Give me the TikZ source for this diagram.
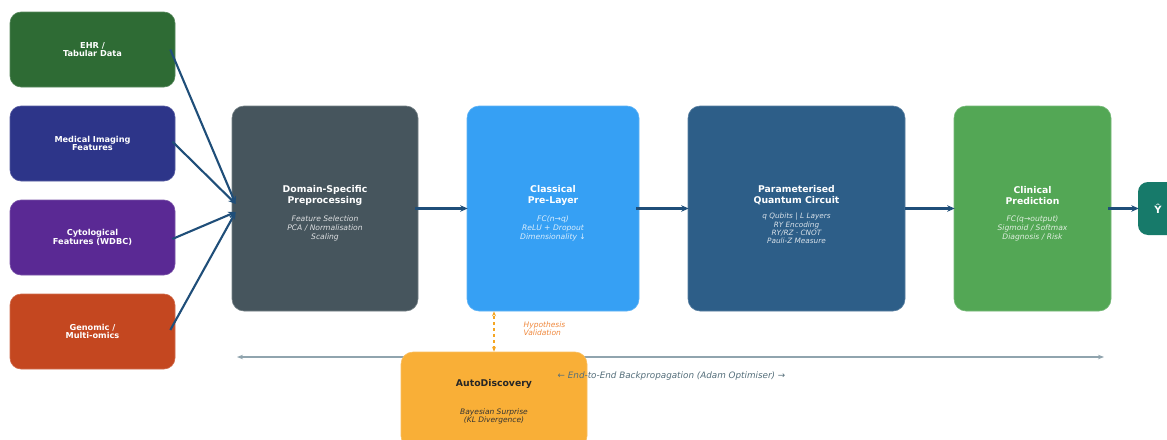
\documentclass[tikz,border=0pt]{standalone}
\usepackage{fontspec}
\setmainfont{DejaVu Sans}
\usetikzlibrary{arrows.meta}
\definecolor{cEhr}{HTML}{2E6B34}
\definecolor{cImg}{HTML}{2D3589}
\definecolor{cCyto}{HTML}{5A2994}
\definecolor{cGeno}{HTML}{C44720}
\definecolor{cDom}{HTML}{46555D}
\definecolor{cCls}{HTML}{36A0F4}
\definecolor{cPqc}{HTML}{2D5E88}
\definecolor{cClin}{HTML}{53A755}
\definecolor{cYhat}{HTML}{177A6A}
\definecolor{cAuto}{HTML}{F9AF37}
\definecolor{cArrow}{HTML}{1F4E79}
\definecolor{cBp}{HTML}{90A4AE}
\definecolor{cBpText}{HTML}{546E7A}
\definecolor{cHyp}{HTML}{F5A623}
\definecolor{cHypText}{HTML}{F0883C}
\tikzset{
  inbox/.style={rectangle, rounded corners=11pt, minimum width=165pt, minimum height=75pt,
    inner sep=0pt, text=white, align=center, font=\fontsize{8.2}{8.6}\selectfont\bfseries},
  bigbox/.style={rectangle, rounded corners=12pt, minimum height=205pt, inner sep=0pt},
  ttl/.style={text=white, align=center, inner sep=0pt, font=\fontsize{9.3}{10.3}\selectfont\bfseries},
  subt/.style={align=center, inner sep=0pt, font=\fontsize{7.6}{8.7}\selectfont\itshape},
  flow/.style={draw=cArrow, line width=2.1pt, -{Stealth[length=7.5pt,width=6.5pt]}},
}
\begin{document}
\begin{tikzpicture}[x=1pt,y=-1pt]
\useasboundingbox (0,0) rectangle (1167,439);
\clip (0,0) rectangle (1167,439);
\fill[white] (0,0) rectangle (1167,439);

% input boxes
\node[inbox, fill=cEhr, draw=cEhr!80!white, line width=0.6pt] (ehr) at (92.5,49.5) {EHR /\\Tabular Data};
\node[inbox, fill=cImg, draw=cImg!80!white, line width=0.6pt] (img) at (92.5,143.5) {Medical Imaging\\Features};
\node[inbox, fill=cCyto, draw=cCyto!80!white, line width=0.6pt] (cyto) at (92.5,237.5) {Cytological\\Features (WDBC)};
\node[inbox, fill=cGeno, draw=cGeno!80!white, line width=0.6pt] (geno) at (92.5,331.5) {Genomic /\\Multi-omics};

% main pipeline boxes
\node[bigbox, minimum width=186pt, fill=cDom, draw=cDom!75!white, line width=0.6pt] (dom) at (325,208.5) {};
\node[bigbox, minimum width=172pt, fill=cCls, draw=cCls!80!white, line width=0.6pt] (cls) at (553,208.5) {};
\node[bigbox, minimum width=217pt, fill=cPqc, draw=cPqc!80!white, line width=0.6pt] (pqc) at (796.5,208.5) {};
\node[bigbox, minimum width=157pt, fill=cClin, draw=cClin!80!white, line width=0.6pt] (clin) at (1032.5,208.5) {};
\node[rectangle, rounded corners=10pt, minimum width=40pt, minimum height=53pt, inner sep=0pt,
      fill=cYhat, text=white, font=\fontsize{10}{12}\selectfont\bfseries] (yhat) at (1158,208.5) {Ŷ};

% titles and details
\node[ttl] (domT) at (325,195.5) {Domain-Specific\\Preprocessing};
\node[subt, text=white!82!cDom] (domS) at (325,228.5) {Feature Selection\\PCA / Normalisation\\Scaling};
\node[ttl] (clsT) at (553,195.5) {Classical\\Pre-Layer};
\node[subt, text=white!82!cCls] (clsS) at (553,228.5) {FC(n→q)\\ReLU + Dropout\\Dimensionality ↓};
\node[ttl] (pqcT) at (796.5,195) {Parameterised\\Quantum Circuit};
\node[subt, text=white!82!cPqc, font=\fontsize{7.3}{8.3}\selectfont\itshape] (pqcS) at (796.5,228.5) {q Qubits | L Layers\\RY Encoding\\RY/RZ · CNOT\\Pauli-Z Measure};
\node[ttl] (clinT) at (1032.5,195.5) {Clinical\\Prediction};
\node[subt, text=white!82!cClin] (clinS) at (1032.5,228.5) {FC(q→output)\\Sigmoid / Softmax\\Diagnosis / Risk};

% input arrows
\draw[flow] ([xshift=-5pt]ehr.east) -- ([xshift=4pt,yshift=4.5pt]dom.west);
\draw[flow] ([xshift=-3pt,yshift=2pt]img.east) -- ([xshift=4pt,yshift=4.5pt]dom.west);
\draw[flow] ([xshift=-3pt,yshift=-1.5pt]cyto.east) -- ([xshift=4pt,yshift=-3.5pt]dom.west);
\draw[flow] ([xshift=-5pt,yshift=1.5pt]geno.east) -- ([xshift=4pt,yshift=-3.5pt]dom.west);

% pipeline arrows
\draw[flow] ([xshift=-3pt]dom.east) -- ([xshift=1pt]cls.west);
\draw[flow] ([xshift=-3pt]cls.east) -- ([xshift=1pt]pqc.west);
\draw[flow] (pqc.east) -- ([xshift=1pt]clin.west);
\draw[flow] ([xshift=-3pt]clin.east) -- ([xshift=1pt]yhat.west);

% backpropagation line
\coordinate (bpL) at (237,357);
\coordinate (bpR) at (1104,357);
\draw[cBp, line width=1.3pt, {Stealth[length=6pt,width=4.5pt]}-{Stealth[length=6pt,width=4.5pt]}] (bpL) -- (bpR);

% AutoDiscovery
\node[rectangle, rounded corners=12pt, minimum width=186pt, minimum height=96pt, inner sep=0pt,
      fill=cAuto, draw=cAuto!80!white, line width=0.6pt] (auto) at (494,400) {};
\node[ttl, text=black!85] (autoT) at (494,383.5) {AutoDiscovery};
\node[subt, text=black!80, font=\fontsize{7.5}{8.6}\selectfont\itshape] (autoS) at (494,416.5) {Bayesian Surprise\\(KL Divergence)};

\node[text=cBpText, inner sep=0pt, font=\fontsize{8.8}{10}\selectfont\itshape] (bpT) at (671.5,376) {← End-to-End Backpropagation (Adam Optimiser) →};

\draw[cHyp, line width=1.6pt, dashed, {Stealth[length=5pt,width=4pt]}-{Stealth[length=5pt,width=4pt]}]
  (auto.north) -- (auto.north |- cls.south);
\node[text=cHypText, align=left, anchor=west, inner sep=0pt, font=\fontsize{7.5}{8.6}\selectfont\itshape] (hyp) at (523.5,328.5) {Hypothesis\\Validation};
\end{tikzpicture}
\end{document}
